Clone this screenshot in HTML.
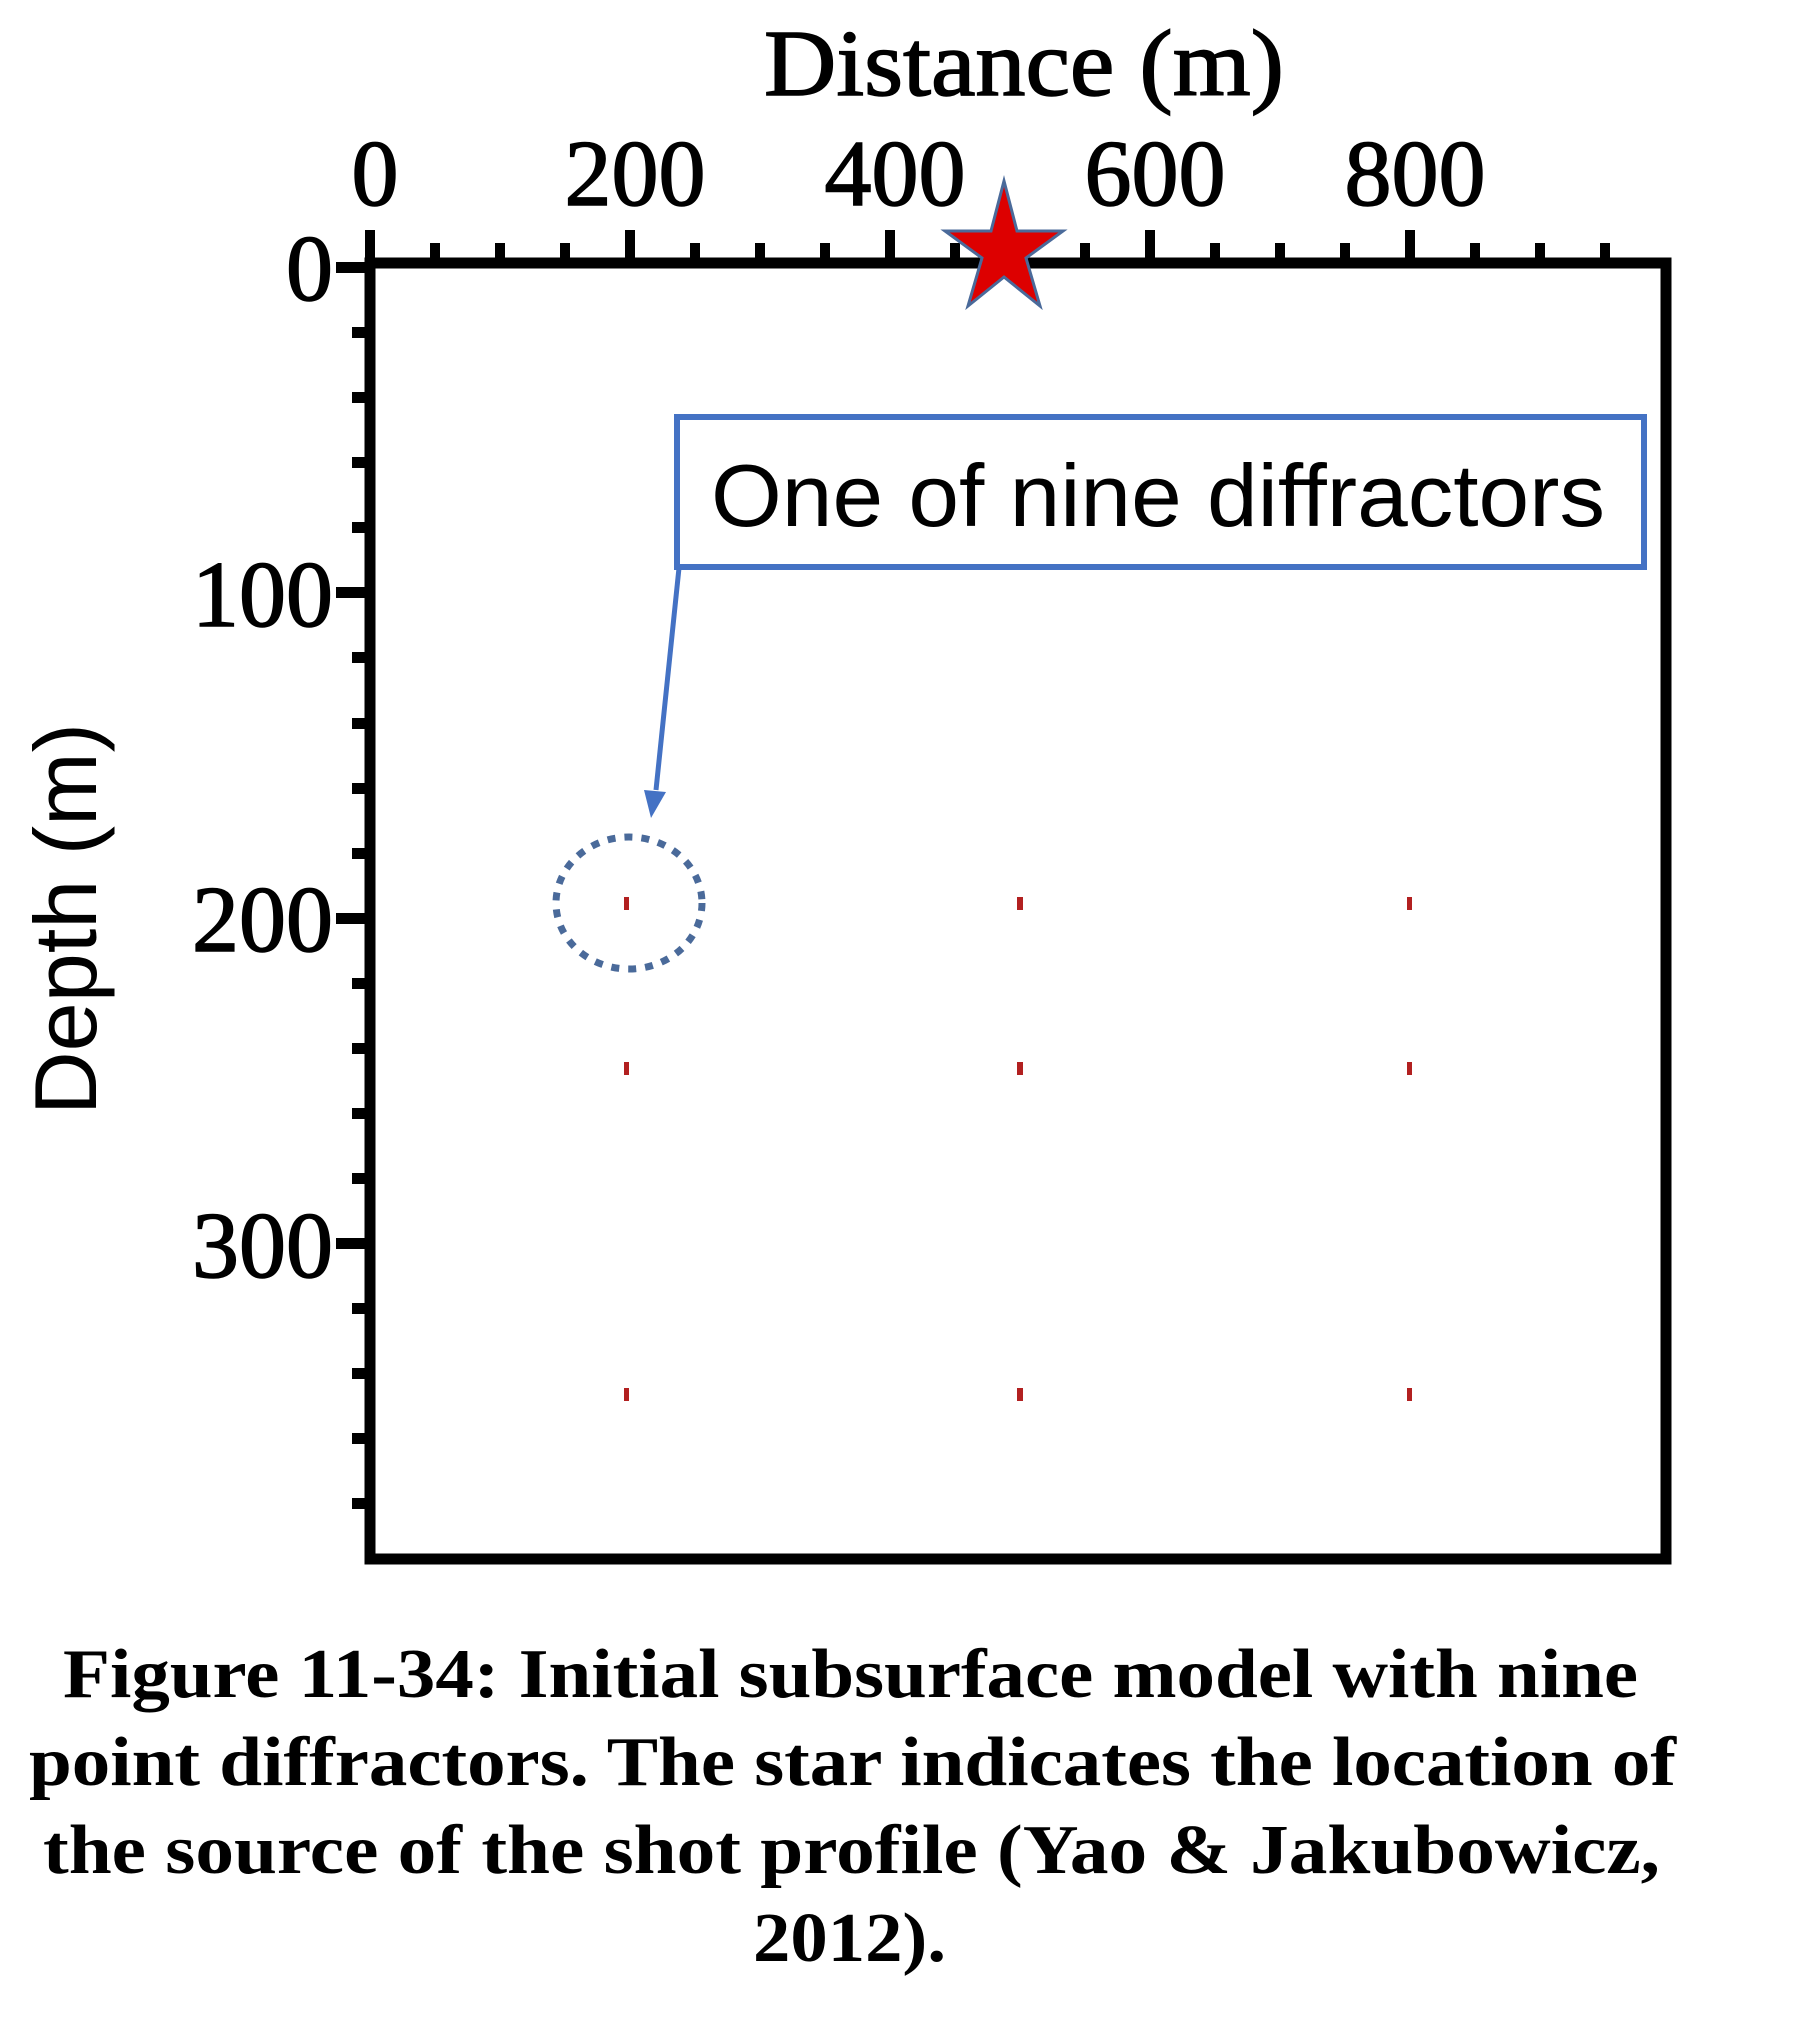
<!DOCTYPE html>
<html><head><meta charset="utf-8"><style>
html,body{margin:0;padding:0;background:#fff;}
svg{display:block;}
</style></head><body>
<svg width="1808" height="2034" viewBox="0 0 1808 2034" xmlns="http://www.w3.org/2000/svg">
<rect width="1808" height="2034" fill="#fff"/>
<rect x="370" y="263" width="1296" height="1296" fill="none" stroke="#000" stroke-width="11"/>
<g fill="#000">
<rect x="365" y="230" width="10" height="30"/>
<rect x="625" y="230" width="10" height="30"/>
<rect x="885" y="230" width="10" height="30"/>
<rect x="1145" y="230" width="10" height="30"/>
<rect x="1405" y="230" width="10" height="30"/>
<rect x="430" y="243" width="10" height="17"/>
<rect x="495" y="243" width="10" height="17"/>
<rect x="560" y="243" width="10" height="17"/>
<rect x="690" y="243" width="10" height="17"/>
<rect x="755" y="243" width="10" height="17"/>
<rect x="820" y="243" width="10" height="17"/>
<rect x="950" y="243" width="10" height="17"/>
<rect x="1015" y="243" width="10" height="17"/>
<rect x="1080" y="243" width="10" height="17"/>
<rect x="1210" y="243" width="10" height="17"/>
<rect x="1275" y="243" width="10" height="17"/>
<rect x="1340" y="243" width="10" height="17"/>
<rect x="1470" y="243" width="10" height="17"/>
<rect x="1535" y="243" width="10" height="17"/>
<rect x="1600" y="243" width="10" height="17"/>
<rect x="336" y="262" width="30" height="11"/>
<rect x="336" y="587" width="30" height="11"/>
<rect x="336" y="913" width="30" height="11"/>
<rect x="336" y="1238" width="30" height="11"/>
<rect x="352" y="327" width="14" height="11"/>
<rect x="352" y="392" width="14" height="11"/>
<rect x="352" y="457" width="14" height="11"/>
<rect x="352" y="522" width="14" height="11"/>
<rect x="352" y="652" width="14" height="11"/>
<rect x="352" y="718" width="14" height="11"/>
<rect x="352" y="783" width="14" height="11"/>
<rect x="352" y="848" width="14" height="11"/>
<rect x="352" y="978" width="14" height="11"/>
<rect x="352" y="1043" width="14" height="11"/>
<rect x="352" y="1108" width="14" height="11"/>
<rect x="352" y="1173" width="14" height="11"/>
<rect x="352" y="1303" width="14" height="11"/>
<rect x="352" y="1368" width="14" height="11"/>
<rect x="352" y="1433" width="14" height="11"/>
<rect x="352" y="1498" width="14" height="11"/>
</g>
<g font-family="Liberation Serif, serif" font-size="94" fill="#000" stroke="#000" stroke-width="1.5" text-anchor="middle">
<text x="375" y="205">0</text>
<text x="635" y="205">200</text>
<text x="895" y="205">400</text>
<text x="1155" y="205">600</text>
<text x="1415" y="205">800</text>
</g>
<g font-family="Liberation Serif, serif" font-size="94" fill="#000" stroke="#000" stroke-width="1.5" text-anchor="end">
<text x="333" y="300">0</text>
<text x="333" y="626">100</text>
<text x="333" y="951">200</text>
<text x="333" y="1277">300</text>
</g>
<text x="764" y="95" font-family="Liberation Serif, serif" font-size="94" stroke="#000" stroke-width="1.5" textLength="520" lengthAdjust="spacingAndGlyphs">Distance (m)</text>
<text transform="translate(96,1115) rotate(-90)" font-family="Liberation Sans, sans-serif" font-size="88" textLength="392" lengthAdjust="spacingAndGlyphs">Depth (m)</text>
<rect x="677" y="417" width="967" height="150" fill="#fff" stroke="#4472C4" stroke-width="6"/>
<text x="711" y="526" font-family="Liberation Sans, sans-serif" font-size="88" textLength="894" lengthAdjust="spacingAndGlyphs">One of nine diffractors</text>
<line x1="679" y1="568" x2="656" y2="790" stroke="#4472C4" stroke-width="5"/>
<polygon points="644,790 666,792 651,818" fill="#4472C4"/>
<ellipse cx="629" cy="903" rx="73" ry="66" fill="none" stroke="#4A6A9A" stroke-width="7" stroke-dasharray="8 9"/>
<g fill="#B22020">
<rect x="624" y="897" width="5" height="13"/>
<rect x="1017" y="897" width="6" height="13"/>
<rect x="1407" y="897" width="5" height="13"/>
<rect x="624" y="1062" width="5" height="13"/>
<rect x="1017" y="1062" width="6" height="13"/>
<rect x="1407" y="1062" width="5" height="13"/>
<rect x="624" y="1388" width="5" height="13"/>
<rect x="1017" y="1388" width="6" height="13"/>
<rect x="1407" y="1388" width="5" height="13"/>
</g>
<polygon points="1004,181 1017,231 1063,231 1026,258 1040,306 1004,277 968,306 982,258 945,231 991,231" fill="#DD0000" stroke="#4A6A9A" stroke-width="3"/>
<g font-family="Liberation Serif, serif" font-weight="bold" font-size="70" fill="#000">
<text x="63" y="1697" textLength="1575" lengthAdjust="spacingAndGlyphs">Figure 11-34: Initial subsurface model with nine</text>
<text x="29" y="1785" textLength="1647" lengthAdjust="spacingAndGlyphs">point diffractors. The star indicates the location of</text>
<text x="43" y="1873" textLength="1617" lengthAdjust="spacingAndGlyphs">the source of the shot profile (Yao &amp; Jakubowicz,</text>
<text x="753" y="1961" textLength="193" lengthAdjust="spacingAndGlyphs">2012).</text>
</g>
</svg>
</body></html>
